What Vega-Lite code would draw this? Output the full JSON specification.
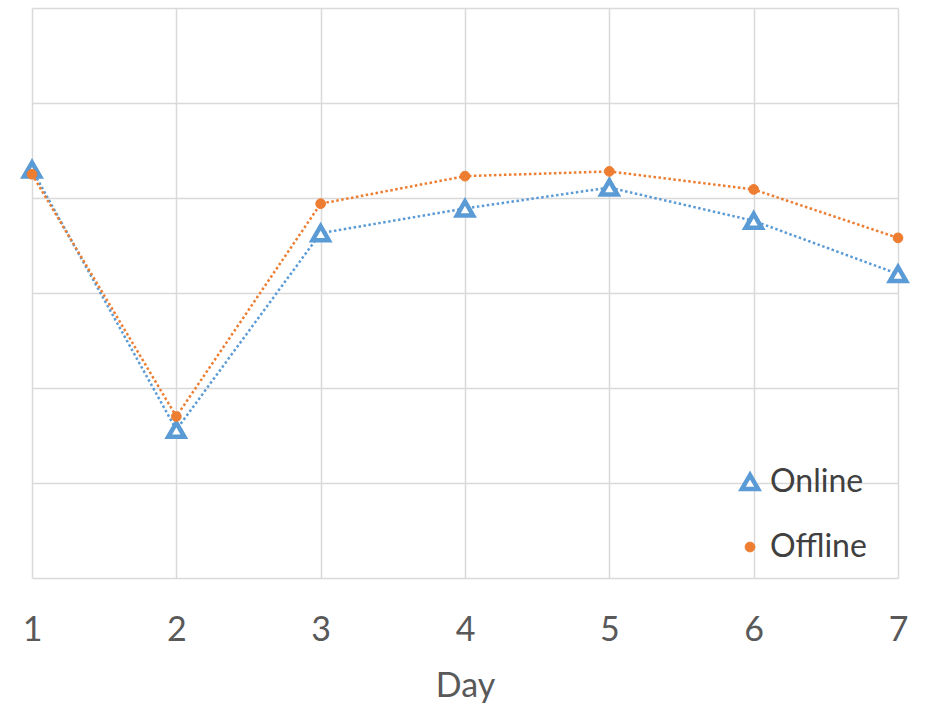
{
  "$schema": "https://vega.github.io/schema/vega-lite/v6.json",
  "width": 866,
  "height": 570,
  "autosize": "none",
  "padding": {"left": 32, "top": 8, "right": 28, "bottom": 126},
  "background": "white",
  "config": {
    "view": {"stroke": null},
    "font": "Lato",
    "axis": {"gridColor": "#d9d9d9", "gridWidth": 1.5, "domain": false, "ticks": false}
  },
  "data": {
    "values": [
      {"day": 1, "series": "Online", "value": 4.30},
      {"day": 2, "series": "Online", "value": 1.56},
      {"day": 3, "series": "Online", "value": 3.63},
      {"day": 4, "series": "Online", "value": 3.89},
      {"day": 5, "series": "Online", "value": 4.11},
      {"day": 6, "series": "Online", "value": 3.76},
      {"day": 7, "series": "Online", "value": 3.20},
      {"day": 1, "series": "Offline", "value": 4.25},
      {"day": 2, "series": "Offline", "value": 1.70},
      {"day": 3, "series": "Offline", "value": 3.94},
      {"day": 4, "series": "Offline", "value": 4.23},
      {"day": 5, "series": "Offline", "value": 4.28},
      {"day": 6, "series": "Offline", "value": 4.09},
      {"day": 7, "series": "Offline", "value": 3.58}
    ]
  },
  "encoding": {
    "x": {
      "field": "day", "type": "quantitative",
      "scale": {"domain": [1, 7], "nice": false},
      "axis": {
        "values": [1, 2, 3, 4, 5, 6, 7], "format": "d", "title": "Day",
        "labelFlush": false, "labelBound": false,
        "labelFontSize": 34, "labelColor": "#595959", "labelPadding": 35,
        "titleFontSize": 34, "titleColor": "#595959", "titleFontWeight": "normal", "titlePadding": 22
      }
    },
    "y": {
      "field": "value", "type": "quantitative",
      "scale": {"domain": [0, 6], "nice": false},
      "axis": {"values": [0, 1, 2, 3, 4, 5, 6], "labels": false, "title": null}
    }
  },
  "layer": [
    {
      "mark": {"type": "line", "strokeWidth": 2.5, "strokeDash": [2.5, 2.5]},
      "encoding": {
        "color": {
          "field": "series", "type": "nominal",
          "scale": {"domain": ["Online", "Offline"], "range": ["#5B9BD5", "#ED7D31"]}
        },
        "detail": {"field": "series"}
      }
    },
    {
      "mark": {"type": "point", "filled": false, "opacity": 1},
      "encoding": {
        "color": {
          "field": "series", "type": "nominal",
          "scale": {"domain": ["Online", "Offline"], "range": ["#5B9BD5", "#ED7D31"]},
          "legend": {
            "title": null, "orient": "none", "legendX": 702, "legendY": 458,
            "labelFontSize": 32, "labelColor": "#404040", "rowPadding": 33,
            "labelOffset": 4
          }
        },
        "fill": {
          "field": "series", "type": "nominal",
          "scale": {"domain": ["Online", "Offline"], "range": ["white", "#ED7D31"]}
        },
        "shape": {
          "field": "series", "type": "nominal",
          "scale": {"domain": ["Online", "Offline"], "range": ["triangle-up", "circle"]}
        },
        "size": {
          "field": "series", "type": "nominal",
          "scale": {"domain": ["Online", "Offline"], "range": [260, 95]}
        },
        "strokeWidth": {
          "field": "series", "type": "nominal",
          "scale": {"domain": ["Online", "Offline"], "range": [4.5, 1]}
        }
      }
    }
  ]
}
